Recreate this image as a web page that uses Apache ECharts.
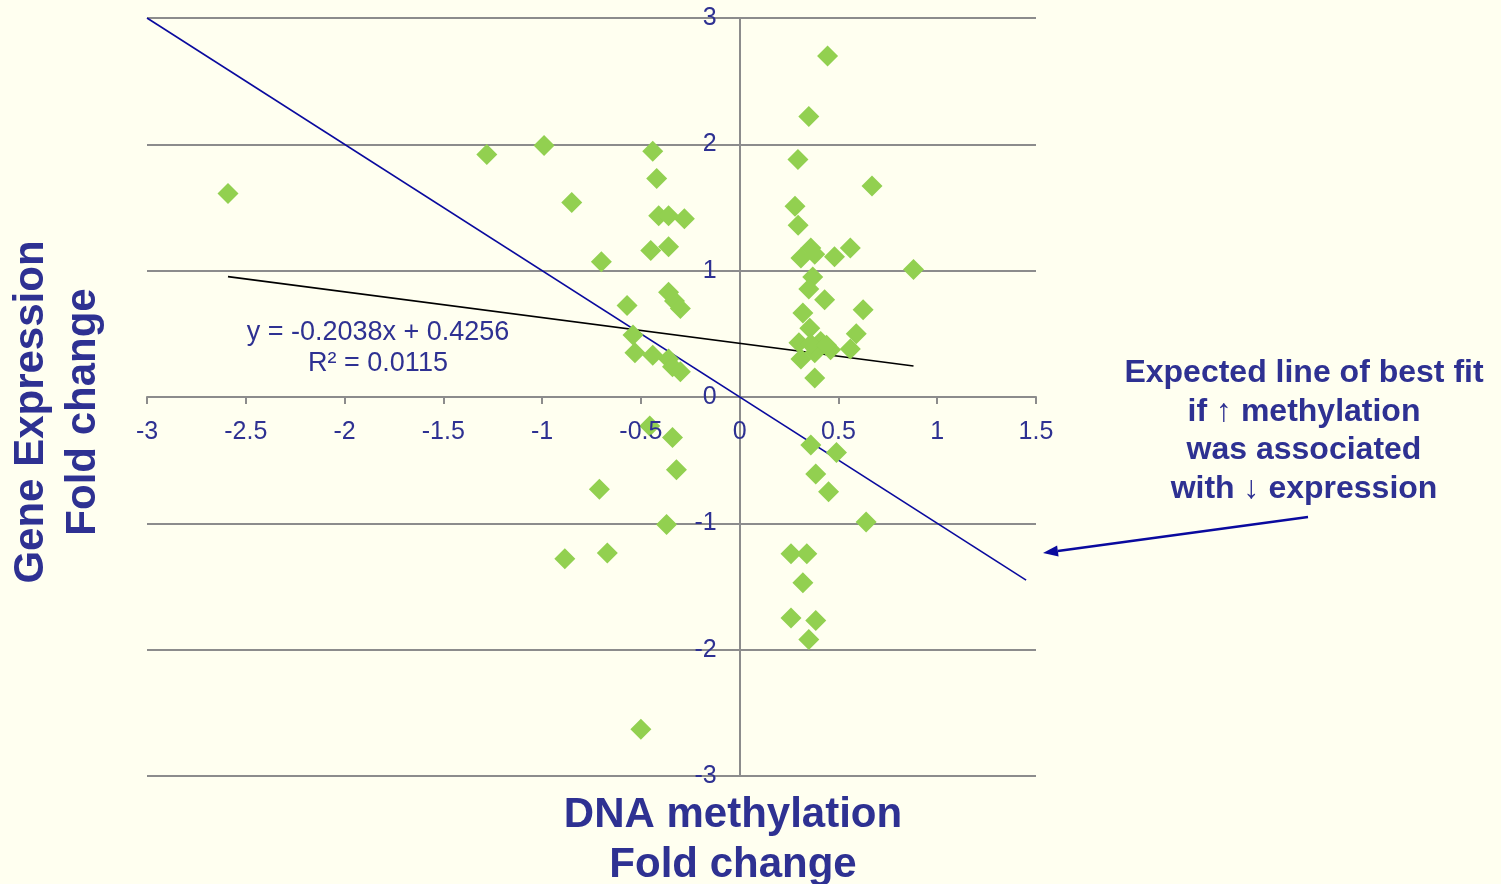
<!DOCTYPE html>
<html>
<head>
<meta charset="utf-8">
<script src="https://cdn.jsdelivr.net/npm/echarts@6/dist/echarts.min.js"></script>
<style>
html,body{margin:0;padding:0;background:#FFFFF0;}
#chart{width:1501px;height:884px;}
</style>
</head>
<body>
<div id="chart"></div>
<script>
// DNA methylation fold change (x) and gene expression fold change (y)
const methylation = [
  -2.59, -1.28, -0.99, -0.85, -0.70, -0.57, -0.44, -0.42, -0.41, -0.36,
  -0.28, -0.45, -0.36, -0.36, -0.33, -0.30, -0.54, -0.53, -0.44, -0.36,
  -0.34, -0.30, -0.455, -0.34, -0.32, -0.71, -0.37, -0.67, -0.885, -0.50,
  0.445, 0.35, 0.295, 0.67, 0.28, 0.296, 0.36, 0.31, 0.38, 0.48,
  0.56, 0.88, 0.37, 0.35, 0.43, 0.625, 0.32, 0.355, 0.59, 0.30,
  0.41, 0.46, 0.56, 0.31, 0.38, 0.36, 0.44, 0.38, 0.36, 0.49,
  0.385, 0.45, 0.64, 0.26, 0.34, 0.32, 0.26, 0.385, 0.35
];
const expression = [
  1.61, 1.92, 1.99, 1.54, 1.07, 0.725, 1.945, 1.73, 1.435, 1.435,
  1.41, 1.16, 1.19, 0.83, 0.76, 0.70, 0.49, 0.35, 0.33, 0.30,
  0.24, 0.20, -0.23, -0.32, -0.575, -0.73, -1.01, -1.235, -1.28, -2.63,
  2.70, 2.22, 1.88, 1.67, 1.51, 1.36, 1.18, 1.10, 1.13, 1.11,
  1.18, 1.01, 0.95, 0.855, 0.77, 0.69, 0.665, 0.545, 0.50, 0.43,
  0.44, 0.375, 0.38, 0.30, 0.35, 0.42, 0.41, 0.15, -0.38, -0.44,
  -0.61, -0.75, -0.99, -1.24, -1.24, -1.47, -1.75, -1.77, -1.92
];
// Expected line (y = -x) endpoints
const expectedX = [-3, 1.45];
const expectedY = [3, -1.45];
// Fitted trendline endpoints (y = -0.2038x + 0.4256)
const trendX = [-2.59, 0.88];
const trendY = [0.953, 0.246];
// Tick labels (drawn at the crossing axes)
const xTickLabels = [-3, -2.5, -2, -1.5, -1, -0.5, 0, 0.5, 1, 1.5];
const yTickLabels = [-3, -2, -1, 0, 1, 2, 3];
const equationText = 'y = -0.2038x + 0.4256\nR² = 0.0115';
const annotationText = 'Expected line of best fit\nif ↑ methylation\nwas associated\nwith ↓ expression';

const TXT = '#2E3192';
const FONT = '"Liberation Sans", Arial, sans-serif';

const points = methylation.map((x, i) => [x, expression[i]]);
const expectedLine = expectedX.map((x, i) => [x, expectedY[i]]);
const trendLine = trendX.map((x, i) => [x, trendY[i]]);

const chart = echarts.init(document.getElementById('chart'), null, {renderer: 'canvas'});

// arrow geometry (annotation pointer)
const aStart = [1308, 517], aEnd = [1043, 553];
const dx = aEnd[0] - aStart[0], dy = aEnd[1] - aStart[1];
const len = Math.sqrt(dx * dx + dy * dy);
const ux = dx / len, uy = dy / len;
const headL = 15, headW = 5.5;
const bx = aEnd[0] - ux * headL, by = aEnd[1] - uy * headL;

const labelStyle = {show: true, color: TXT, fontSize: 25, fontFamily: FONT,
  textBorderWidth: 0, textShadowBlur: 0, opacity: 1};

chart.setOption({
  backgroundColor: '#FFFFF0',
  animation: false,
  grid: {left: 147, right: 465, top: 18, bottom: 108, containLabel: false},
  xAxis: {
    type: 'value',
    min: -3, max: 1.5, interval: 0.5,
    axisLine: {onZero: true, lineStyle: {color: '#8C8C8C', width: 2}},
    axisTick: {show: true, length: 7, inside: false, lineStyle: {color: '#8C8C8C', width: 2}},
    axisLabel: {show: false},
    splitLine: {show: false}
  },
  yAxis: {
    type: 'value',
    min: -3, max: 3, interval: 1,
    axisLine: {onZero: true, lineStyle: {color: '#8C8C8C', width: 2}},
    axisTick: {show: true, length: 7, lineStyle: {color: '#8C8C8C', width: 2}},
    axisLabel: {show: false},
    splitLine: {show: true, lineStyle: {color: '#8C8C8C', width: 2}}
  },
  series: [
    {
      type: 'line', data: expectedLine, symbol: 'none', z: 3,
      lineStyle: {color: '#0A0A9E', width: 1.6}
    },
    {
      type: 'line', data: trendLine, symbol: 'none', z: 3,
      lineStyle: {color: '#000000', width: 1.6}
    },
    {
      type: 'scatter', data: points, symbol: 'diamond', symbolSize: 21, z: 4,
      itemStyle: {color: '#92D050', opacity: 1}
    },
    {
      type: 'scatter', data: xTickLabels.map(v => [v, 0]), symbolSize: 0, z: 5,
      silent: true, itemStyle: {opacity: 1},
      label: Object.assign({}, labelStyle, {position: 'bottom', distance: 23,
        formatter: p => String(p.value[0])})
    },
    {
      type: 'scatter', data: yTickLabels.map(v => [0, v]), symbolSize: 0, z: 5,
      silent: true, itemStyle: {opacity: 1},
      label: Object.assign({}, labelStyle, {position: 'left', distance: 23,
        formatter: p => String(p.value[1])})
    }
  ],
  graphic: [
    {
      type: 'text', x: 378, y: 348, z: 10,
      style: {text: equationText, fill: TXT, font: '27px ' + FONT,
        align: 'center', verticalAlign: 'middle', lineHeight: 31}
    },
    {
      type: 'text', x: 1304, y: 431, z: 10,
      style: {text: annotationText, fill: TXT, font: 'bold 32px ' + FONT,
        align: 'center', verticalAlign: 'middle', lineHeight: 38.5}
    },
    {
      type: 'text', x: 733, y: 840, z: 10,
      style: {text: 'DNA methylation\nFold change', fill: TXT, font: 'bold 42px ' + FONT,
        align: 'center', verticalAlign: 'middle', lineHeight: 50}
    },
    {
      type: 'text', x: 57, y: 412, rotation: Math.PI / 2, z: 10,
      style: {text: 'Gene Expression\nFold change', fill: TXT, font: 'bold 42px ' + FONT,
        align: 'center', verticalAlign: 'middle', lineHeight: 52}
    },
    {
      type: 'line', z: 10,
      shape: {x1: aStart[0], y1: aStart[1], x2: bx, y2: by},
      style: {stroke: '#0A0A9E', lineWidth: 2.5}
    },
    {
      type: 'polygon', z: 10,
      shape: {points: [[aEnd[0], aEnd[1]],
        [bx - uy * headW, by + ux * headW],
        [bx + uy * headW, by - ux * headW]]},
      style: {fill: '#0A0A9E'}
    }
  ]
});
</script>
</body>
</html>
